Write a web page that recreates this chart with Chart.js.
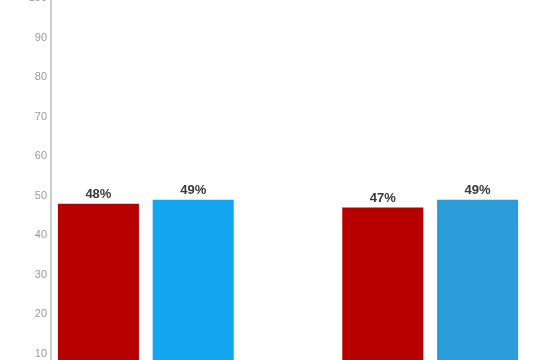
<!DOCTYPE html>
<html>
<head>
<meta charset="utf-8">
<script src="https://cdn.jsdelivr.net/npm/chart.js@4"></script>
<style>
  html, body { margin: 0; padding: 0; background: #fff; overflow: hidden; }
  #wrap { position: absolute; left: 0; top: -19px; width: 550px; height: 430px; }
</style>
</head>
<body>
<div id="wrap"><canvas id="myChart" width="550" height="430"></canvas></div>
<script>
// categories (no x labels are visible in the picture)
const groups = ['Group 1', 'Group 2'];
// series values, in percent
const redValues = [48, 47];
const blueValues = [49, 49];
const redColor = '#b60000';
const blueColors = ['#12a6f1', '#2a9cda'];
// y tick labels
const yTicks = [0, 10, 20, 30, 40, 50, 60, 70, 80, 90, 100];

// each bar sits in its own slot, with an empty slot between the two groups
const labels = [];
const redData = [];
const blueData = [];
const blueBg = [];
groups.forEach((g, i) => {
    if (i > 0) {
        labels.push('');
        redData.push(null);
        blueData.push(null);
        blueBg.push(blueColors[i]);
    }
    labels.push(g, g);
    redData.push(redValues[i], null);
    blueData.push(null, blueValues[i]);
    blueBg.push(blueColors[i], blueColors[i]);
});

// draws "48%" etc above each bar
const valueLabels = {
    id: 'valueLabels',
    afterDatasetsDraw(chart) {
        const ctx = chart.ctx;
        ctx.save();
        ctx.font = '600 13px "Liberation Sans", Arial, sans-serif';
        ctx.fillStyle = '#3a3a3a';
        ctx.textAlign = 'center';
        ctx.textBaseline = 'bottom';
        chart.data.datasets.forEach((ds, di) => {
            chart.getDatasetMeta(di).data.forEach((bar, i) => {
                if (ds.data[i] == null) return;
                ctx.fillText(ds.data[i] + '%', bar.x, bar.y - 3);
            });
        });
        ctx.restore();
    }
};

new Chart(document.getElementById('myChart'), {
    type: 'bar',
    data: {
        labels: labels,
        datasets: [{
            label: 'Red',
            data: redData,
            backgroundColor: redColor,
            skipNull: true
        }, {
            label: 'Blue',
            data: blueData,
            backgroundColor: blueBg,
            skipNull: true
        }]
    },
    options: {
        responsive: false,
        animation: false,
        layout: { padding: { top: 17, bottom: 17.5, left: 0, right: 25 } },
        datasets: {
            bar: { categoryPercentage: 1, barPercentage: 0.855 }
        },
        scales: {
            x: {
                display: false
            },
            y: {
                min: 0,
                max: 100,
                afterFit(scale) { scale.width = 51; },
                afterBuildTicks(scale) { scale.ticks = yTicks.map(v => ({ value: v })); },
                grid: { display: false, drawTicks: false },
                border: { display: true, color: '#cdcdcd', width: 2 },
                ticks: {
                    padding: 4,
                    color: '#9a9a9a',
                    font: { family: '"Liberation Sans", Arial, sans-serif', size: 11 }
                }
            }
        },
        plugins: {
            legend: { display: false },
            tooltip: { enabled: false }
        }
    },
    plugins: [valueLabels]
});
</script>
</body>
</html>
